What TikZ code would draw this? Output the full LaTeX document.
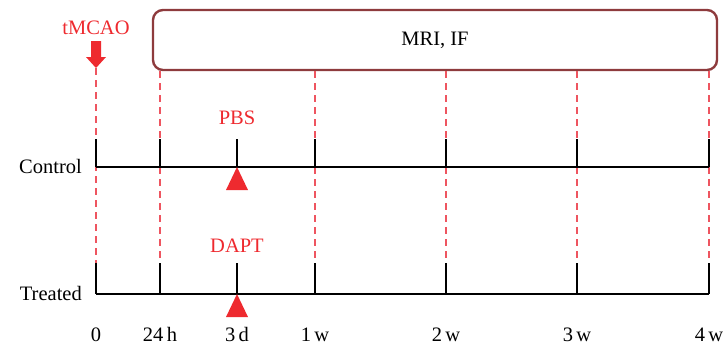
\documentclass[tikz,border=0pt]{standalone}
\usepackage{fontspec}
\setmainfont{Liberation Serif}
\usetikzlibrary{calc}
\definecolor{accent}{HTML}{EE2A2F}
\definecolor{guide}{HTML}{EE5560}
\definecolor{boxline}{HTML}{8E3B3D}
\tikzset{
  lbl/.style={font=\fontsize{20.5}{22}\selectfont, inner sep=0pt},
  redlbl/.style={lbl, text=accent},
  guideline/.style={draw=guide, line width=1.3pt, dash pattern=on 7pt off 5pt},
  axis/.style={draw=black, line width=1.4pt},
  marker/.style={fill=accent, draw=none},
}
\begin{document}
\begin{tikzpicture}[x=1pt, y=-1pt]
\useasboundingbox (0,0) rectangle (724,349);
% time points
\foreach \n/\x in {t0/96, t1/160, t2/237, t3/315, t4/446, t5/577, t6/709} {
  \coordinate (\n) at (\x,0);
}
% observation box
\node[draw=boxline, line width=2.4pt, rounded corners=10pt, minimum width=564pt, minimum height=60pt, inner sep=0pt] (box) at (435,40) {};
\node[lbl] (boxtext) at (box.center) {MRI, IF};
% occlusion label and arrow
\node[redlbl] (tm) at (96,28) {tMCAO};
\coordinate (arrtip) at (96,68);
\fill[accent] ($(arrtip)+(-5,-27)$) -- ($(arrtip)+(5,-27)$) -- ($(arrtip)+(5,-11)$) -- ($(arrtip)+(10,-11)$) -- (arrtip) -- ($(arrtip)+(-10,-11)$) -- ($(arrtip)+(-5,-11)$) -- cycle;
% guide lines
\draw[guideline] (arrtip) -- (t0 |- 0,263);
\foreach \n in {t1,t3,t4,t5,t6} {
  \draw[guideline] (\n |- box.south) -- (\n |- 0,263);
}
% group axes
\node[lbl, anchor=east] (ctl) at (82,166) {Control};
\node[lbl, anchor=east] (trt) at (82,293) {Treated};
\coordinate (c0) at (96,167);
\coordinate (c6) at (709,167);
\coordinate (r0) at (96,294);
\coordinate (r6) at (709,294);
\draw[axis] (c0) -- (c6);
\draw[axis] (r0) -- (r6);
\foreach \n in {t0,t1,t2,t3,t4,t5,t6} {
  \draw[axis, line width=1.2pt] (\n |- 0,139) -- (\n |- c0);
  \draw[axis, line width=1.2pt] (\n |- 0,263) -- (\n |- r0);
}
% treatment labels and markers
\node[redlbl] (pbs) at (237,118) {PBS};
\node[redlbl] (dapt) at (237,246) {DAPT};
\fill[marker] (t2 |- c0) -- ++(11,23) -- ++(-22,0) -- cycle;
\fill[marker] (t2 |- r0) -- ++(11,23) -- ++(-22,0) -- cycle;
% time labels
\foreach \n/\t in {t0/0, t1/24\,h, t2/3\,d, t3/1\,w, t4/2\,w, t5/3\,w, t6/4\,w} {
  \node[lbl, anchor=base] (\n lbl) at ($(\n)+(0,341)$) {\t};
}
\end{tikzpicture}
\end{document}
